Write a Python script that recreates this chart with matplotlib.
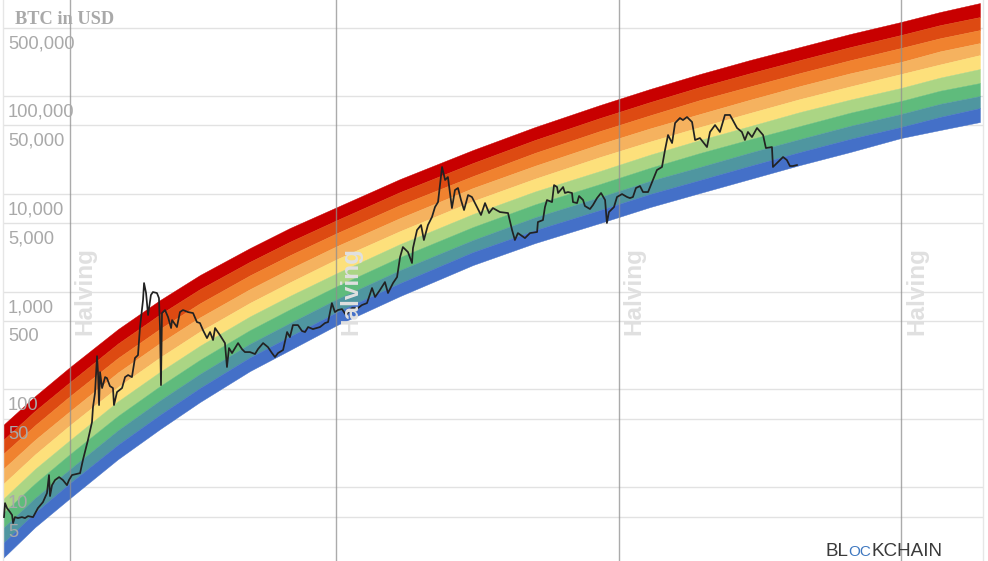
import numpy as np
import matplotlib
matplotlib.use("Agg")
import matplotlib.pyplot as plt
from matplotlib.transforms import ScaledTranslation

# Time is counted in days since 2012-01-01.
axis_span_days = (0, 4857)
halving_days = [332, 1651, 3053, 4453]
halving_label = "Halving"

price_ticks = [500000, 100000, 50000, 10000, 5000, 1000, 500, 100, 50, 10, 5]
price_tick_labels = ["500,000", "100,000", "50,000", "10,000", "5,000", "1,000", "500", "100", "50", "10", "5"]

band_colors = ["#C80000", "#DD4A12", "#F0822F", "#F5B25F", "#FDE07B", "#ABD584", "#5FBB7C", "#4F96A0", "#4470C8"]

# Rainbow boundaries, log10(USD): one row per sample day, top boundary first.
band_days = [0, 159, 332, 570, 778, 976, 1224, 1422, 1655, 1968, 2329, 2637, 2959, 3207, 3454, 3702, 3950, 4198, 4450, 4644, 4842]
band_bounds_log10 = [
    [1.634, 1.481, 1.338, 1.184, 1.031, 0.877, 0.734, 0.581, 0.427, 0.274],
    [1.931, 1.781, 1.633, 1.484, 1.335, 1.186, 1.038, 0.889, 0.740, 0.591],
    [2.228, 2.074, 1.931, 1.777, 1.634, 1.481, 1.338, 1.184, 1.041, 0.887],
    [2.616, 2.469, 2.321, 2.173, 2.025, 1.878, 1.729, 1.582, 1.434, 1.286],
    [2.913, 2.767, 2.619, 2.473, 2.327, 2.179, 2.033, 1.887, 1.740, 1.593],
    [3.169, 3.025, 2.880, 2.736, 2.592, 2.446, 2.302, 2.158, 2.014, 1.870],
    [3.445, 3.305, 3.166, 3.025, 2.885, 2.746, 2.606, 2.466, 2.327, 2.187],
    [3.650, 3.510, 3.372, 3.233, 3.095, 2.956, 2.818, 2.679, 2.541, 2.402],
    [3.864, 3.731, 3.598, 3.465, 3.332, 3.189, 3.056, 2.923, 2.790, 2.657],
    [4.151, 4.018, 3.885, 3.752, 3.619, 3.486, 3.353, 3.220, 3.087, 2.954],
    [4.448, 4.315, 4.181, 4.059, 3.926, 3.793, 3.660, 3.527, 3.404, 3.271],
    [4.683, 4.551, 4.419, 4.287, 4.155, 4.024, 3.892, 3.760, 3.628, 3.496],
    [4.908, 4.775, 4.642, 4.509, 4.376, 4.233, 4.100, 3.967, 3.834, 3.701],
    [5.072, 4.938, 4.803, 4.669, 4.535, 4.400, 4.266, 4.132, 3.998, 3.864],
    [5.225, 5.092, 4.959, 4.816, 4.683, 4.550, 4.417, 4.274, 4.141, 4.008],
    [5.368, 5.233, 5.098, 4.962, 4.827, 4.692, 4.557, 4.421, 4.286, 4.151],
    [5.501, 5.368, 5.235, 5.102, 4.969, 4.836, 4.693, 4.560, 4.427, 4.294],
    [5.634, 5.500, 5.366, 5.232, 5.098, 4.963, 4.829, 4.695, 4.561, 4.427],
    [5.757, 5.624, 5.491, 5.348, 5.225, 5.082, 4.949, 4.816, 4.683, 4.570],
    [5.859, 5.725, 5.591, 5.457, 5.323, 5.188, 5.054, 4.920, 4.786, 4.652],
    [5.951, 5.808, 5.675, 5.542, 5.419, 5.276, 5.133, 5.000, 4.877, 4.734],
]

btc_days = [5, 10, 20, 35, 45, 50, 59, 74, 94, 109, 124, 149, 173, 198, 218, 228, 233, 243, 258, 278, 297, 317, 327, 342, 382, 396, 421, 441, 446, 456, 466, 471, 476, 481, 491, 506, 515, 530, 545, 550, 565, 590, 605, 620, 639, 654, 669, 679, 694, 699, 709, 719, 733, 743, 763, 773, 778, 783, 788, 803, 818, 833, 838, 862, 877, 892, 917, 942, 961, 976, 991, 1011, 1026, 1041, 1051, 1075, 1100, 1110, 1120, 1135, 1150, 1165, 1184, 1199, 1224, 1249, 1264, 1289, 1313, 1333, 1348, 1363, 1388, 1408, 1422, 1437, 1462, 1482, 1497, 1512, 1536, 1571, 1596, 1611, 1630, 1645, 1660, 1680, 1700, 1730, 1759, 1779, 1804, 1829, 1844, 1868, 1893, 1908, 1933, 1953, 1968, 1982, 2007, 2027, 2032, 2052, 2072, 2086, 2106, 2126, 2141, 2156, 2176, 2191, 2205, 2225, 2240, 2255, 2270, 2285, 2305, 2324, 2349, 2369, 2389, 2409, 2428, 2463, 2503, 2523, 2537, 2552, 2587, 2612, 2647, 2651, 2676, 2686, 2696, 2721, 2731, 2746, 2751, 2776, 2785, 2800, 2820, 2825, 2845, 2855, 2875, 2884, 2909, 2924, 2944, 2964, 2984, 2993, 3003, 3028, 3043, 3068, 3093, 3107, 3122, 3137, 3157, 3172, 3197, 3221, 3241, 3266, 3281, 3296, 3316, 3331, 3355, 3370, 3390, 3415, 3430, 3454, 3489, 3504, 3529, 3553, 3578, 3603, 3638, 3662, 3677, 3692, 3712, 3737, 3767, 3781, 3811, 3816, 3841, 3866, 3885, 3900, 3915, 3935]
btc_log10 = [0.693, 0.836, 0.785, 0.744, 0.714, 0.632, 0.693, 0.683, 0.693, 0.683, 0.703, 0.693, 0.785, 0.846, 0.939, 1.123, 0.908, 1.020, 1.072, 1.102, 1.072, 1.020, 1.072, 1.123, 1.143, 1.276, 1.481, 1.665, 1.818, 1.962, 2.340, 2.166, 1.839, 2.176, 2.013, 2.125, 2.115, 2.033, 2.013, 1.839, 1.972, 2.013, 2.125, 2.146, 2.125, 2.320, 2.350, 2.637, 2.913, 3.087, 2.985, 2.760, 2.964, 2.995, 2.985, 2.933, 2.637, 2.043, 2.780, 2.811, 2.739, 2.627, 2.708, 2.637, 2.790, 2.811, 2.790, 2.780, 2.688, 2.678, 2.606, 2.524, 2.586, 2.504, 2.627, 2.555, 2.473, 2.228, 2.422, 2.371, 2.422, 2.473, 2.412, 2.381, 2.381, 2.361, 2.412, 2.473, 2.432, 2.371, 2.330, 2.371, 2.402, 2.586, 2.534, 2.657, 2.657, 2.596, 2.586, 2.637, 2.616, 2.637, 2.678, 2.688, 2.882, 2.790, 2.811, 2.821, 2.760, 2.831, 2.831, 2.862, 2.882, 3.036, 2.944, 3.015, 3.097, 2.985, 3.087, 3.148, 3.353, 3.455, 3.404, 3.292, 3.445, 3.629, 3.680, 3.527, 3.680, 3.762, 3.864, 3.915, 4.274, 4.141, 4.171, 3.854, 4.038, 4.059, 3.936, 3.834, 3.987, 3.967, 3.864, 3.783, 3.905, 3.803, 3.854, 3.813, 3.803, 3.629, 3.527, 3.598, 3.547, 3.598, 3.609, 3.711, 3.731, 3.864, 3.936, 3.915, 4.089, 4.069, 4.008, 4.069, 4.008, 4.018, 4.008, 3.915, 3.905, 3.977, 3.936, 3.875, 3.844, 3.885, 3.956, 4.008, 3.936, 3.701, 3.813, 3.864, 3.967, 3.997, 3.967, 3.956, 3.967, 4.059, 4.079, 4.018, 4.018, 4.141, 4.243, 4.274, 4.448, 4.601, 4.519, 4.724, 4.775, 4.754, 4.785, 4.734, 4.550, 4.570, 4.478, 4.632, 4.703, 4.632, 4.806, 4.806, 4.673, 4.632, 4.550, 4.632, 4.580, 4.673, 4.601, 4.468, 4.478, 4.274, 4.325, 4.376, 4.345, 4.284, 4.284, 4.294]

W, H = 988, 561
fig = plt.figure(figsize=(W / 100, H / 100), dpi=100, facecolor="white")
ax = fig.add_axes([3 / W, 0, 980 / W, 1])
ax.set_yscale("log")
ax.set_xlim(*axis_span_days)
ax.set_ylim(1.754, 959500)
ax.set_axisbelow(True)

bounds = 10 ** np.array(band_bounds_log10)
for i, color in enumerate(band_colors):
    ax.fill_between(band_days, bounds[:, i + 1], bounds[:, i], color=color, lw=0.3, zorder=1)

for d in halving_days:
    ax.axvline(d, color="#8f8f8f", alpha=0.75, lw=1.0, zorder=2)
    ax.text(d + 74, 0.482, halving_label, transform=ax.get_xaxis_transform(), rotation=90,
            ha="center", va="center", fontsize=17.5, color="#e0e0e0", weight="bold",
            family="Liberation Sans", zorder=4)

ax.plot(btc_days, 10 ** np.array(btc_log10), color="#222222", lw=1.25, zorder=3)

ax.set_yticks(price_ticks)
ax.set_yticklabels([])
ax.minorticks_off()
ax.set_xticks([])
ax.tick_params(axis="y", length=0)
ax.grid(axis="y", color="#e2e2e2", lw=1.0)
for side in ("top", "bottom"):
    ax.spines[side].set_visible(False)
for side in ("left", "right"):
    ax.spines[side].set_color("#e6e6e6")
    ax.spines[side].set_linewidth(1.0)

# Price labels sit on a transparent twin so they stay above the rainbow.
ax2 = ax.twinx()
ax2.set_yscale("log")
ax2.set_ylim(ax.get_ylim())
ax2.patch.set_visible(False)
ax2.yaxis.tick_left()
ax2.set_yticks(price_ticks)
ax2.set_yticklabels(price_tick_labels)
ax2.minorticks_off()
ax2.tick_params(axis="y", length=0, pad=-3.6, labelsize=13.2, labelcolor="#a9a9a9")
for s in ax2.spines.values():
    s.set_visible(False)
shift = ScaledTranslation(0, -14 / 100, fig.dpi_scale_trans)
for lab in ax2.get_yticklabels():
    lab.set_ha("left")
    lab.set_family("Liberation Sans")
    lab.set_transform(lab.get_transform() + shift)

fig.text(15 / W, 1 - 19 / H, "BTC in USD", family="Liberation Serif", weight="bold",
         fontsize=13.2, color="#a9a9a9", ha="left", va="center")

logo_base = 5 / H
for txt, px, col, fs in [("BL", 825, "#3a3a3a", 13.6), ("OC", 848, "#3f78c0", 11), ("KCHAIN", 871, "#3a3a3a", 13.6)]:
    fig.text(px / W, logo_base, txt, family="Liberation Sans", fontsize=fs, color=col,
             ha="left", va="baseline")

fig.savefig("out.png", dpi=100)
